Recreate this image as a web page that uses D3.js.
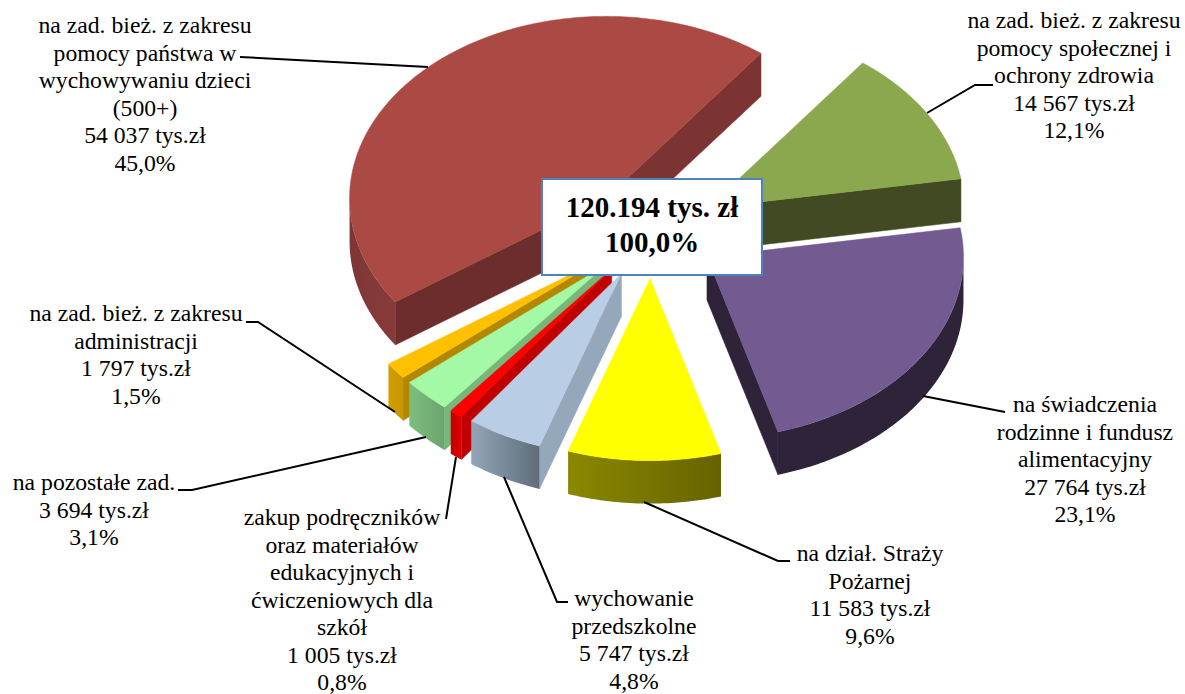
<!DOCTYPE html>
<html><head><meta charset="utf-8">
<script src="https://cdn.jsdelivr.net/npm/d3@7"></script>
<style>html,body{margin:0;padding:0;background:#fff}svg{display:block}text{font-family:"Liberation Serif",serif;fill:#000}</style>
</head><body><svg id="c" width="1185" height="694"></svg>
<script>
const categories = ["pomoc państwa 500+","pomoc społeczna","świadczenia rodzinne","Straż Pożarna","wychowanie przedszkolne","podręczniki","pozostałe","administracja"];
const values = [54037,14567,27764,11583,5747,1005,3694,1797];
const topColors = ["#AB4A45","#8BA84E","#735A90","#FFFF00","#B9CDE5","#FF0000","#A3F9A5","#FFC000"];
const sideColors = ["#6E2D2D","#414A22","#2E2339","#666300","#95A8BB","#C00000","#78B77A","#B38700"];
const endColors = ["#7B3432","#414A22","#2E2339","#666300","#95A8BB","#C00000","#78B77A","#B38700"];
const rimFrom = ["#7E3735","#414A22","#2E2339","#8B8800","#93A5B8","#C00000","#7DBE80","#D09E00"];
const rimTo = ["#873B39","#414A22","#2E2339","#666300","#5F6D79","#E00000","#6AA56C","#C79700"];
const labelLines = [
 ["na zad. bież. z zakresu","pomocy państwa w","wychowywaniu dzieci","(500+)","54 037 tys.zł","45,0%"],
 ["na zad. bież. z zakresu","pomocy społecznej i","ochrony zdrowia","14 567 tys.zł","12,1%"],
 ["na świadczenia","rodzinne i fundusz","alimentacyjny","27 764 tys.zł","23,1%"],
 ["na dział. Straży","Pożarnej","11 583 tys.zł","9,6%"],
 ["wychowanie","przedszkolne","5 747 tys.zł","4,8%"],
 ["zakup podręczników","oraz materiałów","edukacyjnych i","ćwiczeniowych dla","szkół","1 005 tys.zł","0,8%"],
 ["na pozostałe zad.","3 694 tys.zł","3,1%"],
 ["na zad. bież. z zakresu","administracji","1 797 tys.zł","1,5%"]
];
const totalLines = ["120.194 tys. zł","100,0%"];
// layout
const labelAnchors = [[145,33],[1074,28],[1085,412],[870,561],[634,606],[342,525],[94,490],[136,321]];
const leaders = [
 [[240,57],[428,67]],
 [[993,85],[975,85],[927,113]],
 [[1005,412],[923,396]],
 [[790,561],[778,561],[644,502]],
 [[568,602],[557,602],[504,477]],
 [[446,519],[456,457]],
 [[178,490],[192,490],[426,437]],
 [[246,322],[258,322],[395,412]]
];
const paintOrder = [0,1,2,7,6,5,4,3];
const cx=651.5, cy=232, rx=256.5, ry=182, depth=43, explode=0.256;
const svg=d3.select("#c"), defs=svg.append("defs");
const pie=d3.pie().sort(null).startAngle(-124.7*Math.PI/180).endAngle((360-124.7)*Math.PI/180);
const arcs=pie(values);
const proj=(o,a,r=1,dz=0)=>[o[0]+rx*r*Math.sin(a), o[1]-ry*r*Math.cos(a)+dz];
const line=d3.line();
const sample=(a0,a1)=>{const n=Math.max(6,Math.ceil((a1-a0)*60));return d3.range(n+1).map(i=>a0+(a1-a0)*i/n);};
const g=svg.append("g");
paintOrder.forEach(i=>{
  const d=arcs[i], a0=d.startAngle, a1=d.endAngle, mid=(a0+a1)/2;
  const o=proj([cx,cy],mid,explode);
  const wall=(a,fill)=>{
    const p=proj(o,a);
    g.append("path").attr("d",line([o,p,[p[0],p[1]+depth],[o[0],o[1]+depth]])+"Z").attr("fill",fill).attr("stroke",fill).attr("stroke-width",.5);
  };
  if(-Math.sin(a0)>0) wall(a0,sideColors[i]);
  if(Math.sin(a1)>0) wall(a1,endColors[i]);
  const s0=a0<0?a0+2*Math.PI:a0, s1=a0<0?a1+2*Math.PI:a1;
  const lo=Math.max(s0,Math.PI/2), hi=Math.min(s1,Math.PI*1.5);
  if(hi>lo){
    const ang=sample(lo,hi);
    const up=ang.map(a=>proj(o,a)), dn=ang.slice().reverse().map(a=>proj(o,a,1,depth));
    const xs=up.map(p=>p[0]);
    const id="rim"+i;
    const lg=defs.append("linearGradient").attr("id",id).attr("gradientUnits","userSpaceOnUse")
      .attr("x1",d3.min(xs)).attr("x2",d3.max(xs)).attr("y1",0).attr("y2",0);
    lg.append("stop").attr("offset",0).attr("stop-color",rimFrom[i]);
    lg.append("stop").attr("offset",1).attr("stop-color",rimTo[i]);
    g.append("path").attr("d",line(up.concat(dn))+"Z").attr("fill",`url(#${id})`);
  }
  const top=[o].concat(sample(a0,a1).map(a=>proj(o,a)));
  g.append("path").attr("d",line(top)+"Z").attr("fill",topColors[i]).attr("stroke",topColors[i]).attr("stroke-width",.5);
});
// leaders
leaders.forEach(l=>svg.append("path").attr("d",line(l)).attr("fill","none").attr("stroke","#000").attr("stroke-width",2));
// labels
const fs=23.7, lh=27.55;
labelLines.forEach((ls,i)=>{
  const t=svg.append("text").attr("text-anchor","middle").attr("font-size",fs);
  ls.forEach((s,j)=>t.append("tspan").attr("x",labelAnchors[i][0]).attr("y",labelAnchors[i][1]+j*lh).text(s));
});
// total box
svg.append("rect").attr("x",542).attr("y",179).attr("width",220).attr("height",96).attr("fill","#fff").attr("stroke","#4F81BD").attr("stroke-width",2);
totalLines.forEach((s,j)=>svg.append("text").attr("x",652).attr("y",217+j*35).attr("text-anchor","middle").attr("font-size",29).attr("font-weight","bold").text(s));
</script></body></html>
